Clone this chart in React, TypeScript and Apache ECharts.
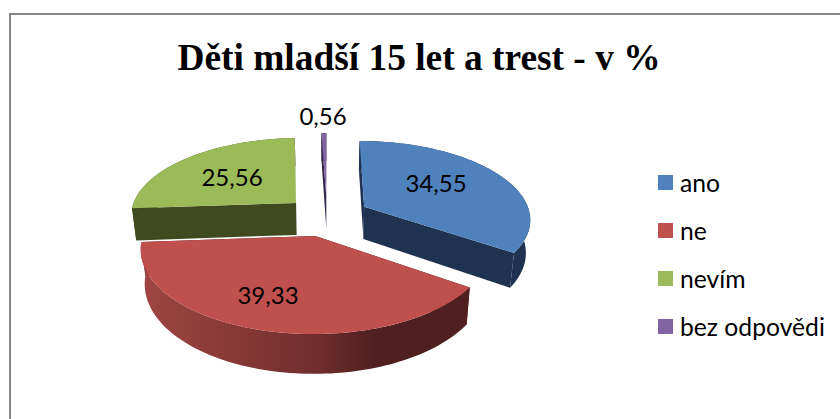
import React, { useEffect, useRef } from "react";
import * as echarts from "echarts";

const TITLE = "Děti mladší 15 let a trest - v %";
const categories = ["ano", "ne", "nevím", "bez odpovědi"];
const values = [34.55, 39.33, 25.56, 0.56];
const valueLabels = ["34,55", "39,33", "25,56", "0,56"];

const TOP_COLORS = ["#4F81BD", "#C0504D", "#9BBB59", "#8064A2"];
const FACE_COLORS = ["#1F3250", "#4A1C1C", "#404A20", "#33284A"];
const RIM_STOPS: [number, string][][] = [
  [[0, "#1F3250"], [1, "#1F3250"]],
  [[0, "#A04644"], [0.3, "#853835"], [0.54, "#702D2D"], [0.72, "#4F1F1F"], [1, "#501F20"]],
  [[0, "#404A20"], [1, "#404A20"]],
  [[0, "#33284A"], [1, "#33284A"]],
];
const DRAW_ORDER = [3, 1, 2, 4]; // z per slice: purple, green, blue, red
const LABEL_POS = [[436, 182], [268, 294], [232, 176], [323, 115]];

// projection of the tilted, exploded disc
const CX = 327, CY = 216, RX = 166.4, RY = 77.7, K = 0.143, DEPTH = 32.7, EXPLODE = 0.257;

function project(X: number, Y: number, down: boolean): [number, number] {
  const w = 1 - K * Y;
  return [CX + (RX * X) / (w * (down ? 1.022 : 1)), CY + (RY * Y + (down ? DEPTH : 0)) / w];
}

const total = values.reduce((a, b) => a + b, 0);

function sliceGeometry(i: number) {
  let before = 0;
  for (let j = 0; j < i; j++) before += values[j];
  const a0 = (before / total) * Math.PI * 2;
  const a1 = ((before + values[i]) / total) * Math.PI * 2;
  const mid = (a0 + a1) / 2;
  const ox = Math.sin(mid) * EXPLODE;
  const oy = -Math.cos(mid) * EXPLODE;
  const arc: [number, number][] = [];
  const steps = Math.max(2, Math.ceil(((a1 - a0) * 180) / Math.PI / 1.5));
  for (let s = 0; s <= steps; s++) {
    const a = a0 + ((a1 - a0) * s) / steps;
    arc.push([ox + Math.sin(a), oy - Math.cos(a)]);
  }
  return { arc, ox, oy };
}

function renderSlice(i: number) {
  return () => {
    const { arc, ox, oy } = sliceGeometry(i);
    const up = (p: [number, number]) => project(p[0], p[1], false);
    const dn = (p: [number, number]) => project(p[0], p[1], true);
    const apex: [number, number] = [ox, oy];
    const poly = (points: number[][], fill: any, z2: number) => ({
      type: "polygon",
      z2,
      shape: { points },
      style: { fill, stroke: "none" },
    });
    const rimFill = new echarts.graphic.LinearGradient(
      0, 0, 1, 0,
      RIM_STOPS[i].map(([offset, color]) => ({ offset, color }))
    );
    const first = arc[0];
    const last = arc[arc.length - 1];
    return {
      type: "group",
      children: [
        poly([up(apex), up(first), dn(first), dn(apex)], FACE_COLORS[i], 1),
        poly([up(apex), up(last), dn(last), dn(apex)], FACE_COLORS[i], 1),
        poly([...arc.map(up), ...arc.slice().reverse().map(dn)], rimFill, 2),
        poly([up(apex), ...arc.map(up)], TOP_COLORS[i], 3),
        {
          type: "text",
          z2: 10,
          style: {
            text: valueLabels[i],
            x: LABEL_POS[i][0],
            y: LABEL_POS[i][1],
            align: "center",
            verticalAlign: "middle",
            font: '24px Lato, sans-serif',
            fill: "#000000",
          },
        },
      ],
    };
  };
}

export default function App() {
  const ref = useRef<HTMLDivElement>(null);
  useEffect(() => {
    document.body.style.margin = "0";
    const chart = echarts.init(ref.current!, null, { renderer: "svg" });
    chart.setOption({
      animation: false,
      backgroundColor: "#ffffff",
      color: TOP_COLORS,
      title: {
        text: TITLE,
        left: 414,
        top: 34,
        textAlign: "center",
        textStyle: {
          fontFamily: '"Liberation Serif", serif',
          fontWeight: "bold",
          fontSize: 37.4,
          color: "#000000",
        },
      },
      legend: {
        orient: "vertical",
        left: 658,
        top: 170,
        padding: 0,
        itemWidth: 15,
        itemHeight: 15,
        itemGap: 23,
        icon: "rect",
        data: categories,
        textStyle: {
          fontFamily: "Lato, sans-serif",
          fontSize: 24.7,
          lineHeight: 15,
          color: "#000000",
          padding: [0, 0, 0, 2],
        },
      },
      graphic: [
        {
          type: "polyline",
          silent: true,
          shape: { points: [[10, 440], [10, 14], [860, 14]] },
          style: { fill: "none", stroke: "#868686", lineWidth: 2 },
        },
      ],
      series: categories.map((name, i) => ({
        type: "custom",
        name,
        coordinateSystem: "none",
        z: DRAW_ORDER[i] + 2,
        silent: true,
        data: [values[i]],
        renderItem: renderSlice(i),
      })),
    });
    return () => chart.dispose();
  }, []);
  return <div ref={ref} style={{ width: 840, height: 419, overflow: "hidden" }} />;
}
